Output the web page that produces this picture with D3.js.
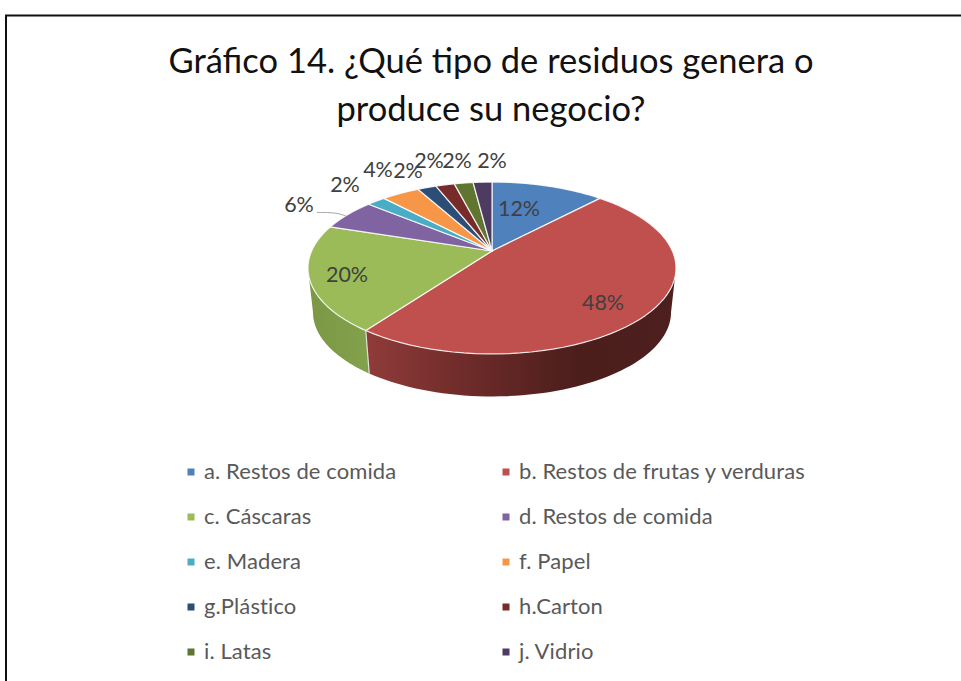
<!DOCTYPE html>
<html><head><meta charset="utf-8">
<script src="https://cdn.jsdelivr.net/npm/d3@7"></script>
<style>html,body{margin:0;padding:0;background:#fff}svg{display:block}text{font-family:Lato,"Open Sans",sans-serif}</style>
</head><body><svg id="c" width="961" height="681"></svg>
<script>
const categories=["a. Restos de comida","b. Restos de frutas y verduras","c. Cáscaras","d. Restos de comida","e. Madera","f. Papel","g.Plástico","h.Carton","i. Latas","j. Vidrio"];
const values=[12,48,20,6,2,4,2,2,2,2];
const labels=["12%","48%","20%","6%","2%","4%","2%","2%","2%","2%"];
const colors=["#4f81bd","#c0504d","#9bbb59","#8064a2","#4bacc6","#f79646","#2c4d75","#772c2a","#5f7530","#4d3b62"];
const titleLines=["Gráfico 14. ¿Qué tipo de residuos genera o","produce su negocio?"];
const labelX=[519,603,347,299,345,378,408,429,457,492];
const labelY=[209,303,275,205,185,170,171,161,161,161];

const svg=d3.select("#c");
svg.append("path").attr("d","M6,681V15.5H961").attr("fill","none").attr("stroke","#111").attr("stroke-width",2);
svg.selectAll("text.t").data(titleLines).join("text").attr("class","t")
 .attr("x",491).attr("y",(d,i)=>73+i*48).attr("text-anchor","middle")
 .attr("font-size",34.5).attr("fill","#111").text(d=>d);

// Perspective disc: unit circle mapped through linear scales
const k=0.1977;
const topX=d3.scaleLinear().domain([-1,1]).range([492-180.4,492+180.4]);
const topY=d3.scaleLinear().domain([-1,1]).range([251-82.6,251+82.6]);
const botX=d3.scaleLinear().domain([-1,1]).range([492-175.5,492+175.5]);
const botY=d3.scaleLinear().domain([-1,1]).range([295.5-81,295.5+81]);
const proj=(sx,sy,a)=>{const u=Math.sin(a),v=-Math.cos(a),w=1-k*v;return [sx(u/w),sy(v/w)];};
const upper=a=>proj(topX,topY,a), lower=a=>proj(botX,botY,a);
const arcs=d3.pie().sort(null).value(d=>d)(values);
const samples=(a0,a1)=>d3.range(0,61).map(i=>a0+(a1-a0)*i/60);
const line=d3.line();

// Walls
const defs=svg.append("defs");
const g1=defs.append("linearGradient").attr("id","wallB").attr("gradientUnits","userSpaceOnUse")
 .attr("x1",368).attr("x2",676).attr("y1",0).attr("y2",0);
[[0,"#8f3b39"],[0.35,"#6b2a28"],[0.68,"#4b1e1c"],[1,"#4d1f1e"]].forEach(s=>g1.append("stop").attr("offset",s[0]).attr("stop-color",s[1]));
const g2=defs.append("linearGradient").attr("id","wallC").attr("gradientUnits","userSpaceOnUse")
 .attr("x1",308).attr("x2",370).attr("y1",0).attr("y2",0);
[[0,"#7b9745"],[1,"#83a24d"]].forEach(s=>g2.append("stop").attr("offset",s[0]).attr("stop-color",s[1]));
const extreme=Math.acos(-k);
const horizonR=extreme, horizonL=2*Math.PI-extreme;
const wall=(a0,a1)=>line(samples(a0,a1).map(upper).concat(samples(a0,a1).reverse().map(lower)))+"Z";
svg.append("path").attr("d",wall(arcs[1].endAngle,horizonL)).attr("fill","url(#wallC)");
svg.append("path").attr("d",wall(horizonR,arcs[1].endAngle)).attr("fill","url(#wallB)");
svg.append("path").attr("d",line([upper(arcs[1].endAngle),lower(arcs[1].endAngle)])).attr("stroke","#dfe5d5").attr("stroke-width",1.2).attr("fill","none");

// Top slices
svg.selectAll("path.s").data(arcs).join("path").attr("class","s")
 .attr("d",d=>line([[topX(0),topY(0)]].concat(samples(d.startAngle,d.endAngle).map(upper)))+"Z")
 .attr("fill",(d,i)=>colors[i]).attr("stroke","#fff").attr("stroke-opacity",0.85).attr("stroke-width",1.2).attr("stroke-linejoin","round");

// Leader for 6%
svg.append("path").attr("d",d3.line().curve(d3.curveBasis)([[317,212.5],[328,212.5],[337,213],[346,216]]))
 .attr("fill","none").attr("stroke","#a6a6a6").attr("stroke-width",1);

svg.selectAll("text.l").data(labels).join("text").attr("class","l")
 .attr("x",(d,i)=>labelX[i]).attr("y",(d,i)=>labelY[i]+7).attr("text-anchor","middle")
 .attr("font-size",21.5).attr("fill","#404040").text(d=>d);

// Legend
const col=d3.scaleOrdinal().domain([0,1]).range([191,506]);
const row=d3.scaleLinear().domain([0,4]).range([472,652]);
const leg=svg.selectAll("g.k").data(categories).join("g").attr("class","k")
 .attr("transform",(d,i)=>`translate(${col(i%2)},${row(Math.floor(i/2))})`);
leg.append("rect").attr("x",-3.5).attr("y",-3.5).attr("width",7).attr("height",7).attr("fill",(d,i)=>colors[i]);
leg.append("text").attr("x",13).attr("y",7).attr("font-size",22).attr("letter-spacing",0.1).attr("fill","#595959").text(d=>d);
</script></body></html>
